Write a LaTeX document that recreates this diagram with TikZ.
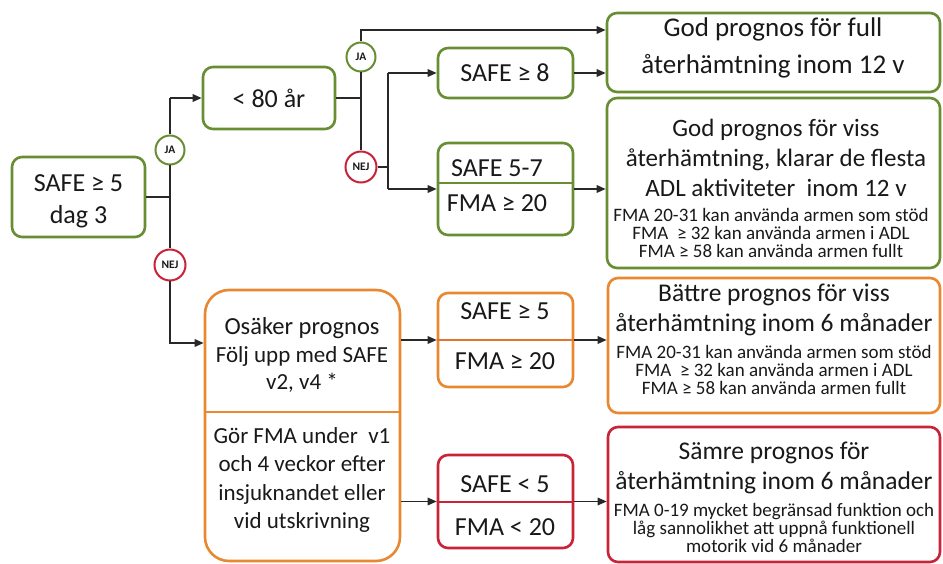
\documentclass[tikz,border=0pt]{standalone}
\usepackage{fontspec}
\setmainfont{Carlito}
\usetikzlibrary{arrows.meta}
\definecolor{gr}{RGB}{104,142,52}
\definecolor{orng}{RGB}{232,136,48}
\definecolor{rd}{RGB}{200,35,55}
\definecolor{ln}{RGB}{40,40,40}
\definecolor{txt}{RGB}{25,25,25}
\begin{document}
\begin{tikzpicture}[x=1pt,y=-1pt,
  box/.style={draw, rounded corners=10pt, line width=2.6pt, inner sep=0pt, fill=white},
  gbox/.style={box, draw=gr},
  obox/.style={box, draw=orng},
  rbox/.style={box, draw=rd},
  big/.style={font=\fontsize{26}{32}\selectfont, align=center, text=txt, inner sep=0pt},
  mid/.style={font=\fontsize{25.5}{30}\selectfont, align=center, text=txt, inner sep=0pt},
  small/.style={font=\fontsize{19}{17.8}\selectfont, align=center, text=txt, inner sep=0pt},
  con/.style={draw=ln, line width=1.6pt},
  arr/.style={con, -{Triangle[length=9pt,width=7.5pt]}},
  jacirc/.style={circle, draw=gr, line width=2pt, fill=white, minimum size=29pt, inner sep=0pt, text=txt, font=\fontsize{11.5}{11.5}\selectfont\bfseries},
  nejcirc/.style={jacirc, draw=rd, minimum size=31pt}
]
\useasboundingbox (0,0) rectangle (943,564);

% boxes
\node[gbox, minimum width=133pt, minimum height=80pt] (A) at (78.5,197) {};
\node[gbox, minimum width=132pt, minimum height=62pt] (B) at (269,98) {};
\node[gbox, minimum width=135pt, minimum height=50pt] (C) at (505.5,73) {};
\node[gbox, minimum width=135pt, minimum height=92pt] (D) at (505.5,189) {};
\node[gbox, minimum width=333pt, minimum height=79pt] (E) at (773.5,52.5) {};
\node[gbox, minimum width=333pt, minimum height=170pt] (F) at (773.5,183) {};
\node[obox, rounded corners=24pt, minimum width=195pt, minimum height=271pt] (G) at (302.5,425.5) {};
\node[obox, minimum width=135pt, minimum height=94pt] (H) at (505.5,340) {};
\node[rbox, minimum width=135pt, minimum height=93pt] (I) at (505.5,501.5) {};
\node[obox, minimum width=332pt, minimum height=135pt] (J) at (774,345.5) {};
\node[rbox, minimum width=332pt, minimum height=135pt] (K) at (774,494.5) {};

% dividers
\draw[gr, line width=1.2pt] (D.west |- 0,183) -- (D.east |- 0,183);
\draw[orng, line width=1.2pt] (G.west |- 0,412) -- (G.east |- 0,412);
\draw[orng!80!rd, line width=1.2pt] (H.west |- 0,340) -- (H.east |- 0,340);
\draw[rd, line width=1.2pt] (I.west |- 0,502) -- (I.east |- 0,502);

% texts
\node[big] (At) at (78.5,201) {SAFE ≥ 5\\dag 3};
\node[big] (Bt) at (269,98) {< 80 år};
\node[big] (Ct) at (505,73) {SAFE ≥ 8};
\node[big] (Dt1) at (497,168) {SAFE 5-7};
\node[big] (Dt2) at (497,203) {FMA ≥ 20};
\node[big] (Ht1) at (505,311) {SAFE ≥ 5};
\node[big] (Ht2) at (505,361) {FMA ≥ 20};
\node[big] (It1) at (505,484) {SAFE < 5};
\node[big] (It2) at (505,527) {FMA < 20};
\node[big, font=\fontsize{27}{37}\selectfont] (Et) at (773,48) {God prognos för full\\återhämtning inom 12 v};
\node[mid, font=\fontsize{25}{30}\selectfont] (Ft) at (776,158) {God prognos för viss\\återhämtning, klarar de flesta\\ADL aktiviteter \ inom 12 v};
\node[small] (Fs) at (771,233) {FMA 20-31 kan använda armen som stöd\\FMA \ ≥ 32 kan använda armen i ADL\\FMA ≥ 58 kan använda armen fullt};
\node[big, font=\fontsize{23}{27.5}\selectfont] (Gt1) at (302,355) {{\fontsize{24.5}{27.5}\selectfont Osäker prognos}\\Följ upp med SAFE\\v2, v4 *};
\node[big, font=\fontsize{23}{28.5}\selectfont] (Gt2) at (302,480) {Gör FMA under \ v1\\och 4 veckor efter\\insjuknandet eller\\vid utskrivning};
\node[mid] (Jt) at (774,310) {Bättre prognos för viss\\återhämtning inom 6 månader};
\node[small] (Js) at (774,370) {FMA 20-31 kan använda armen som stöd\\FMA \ ≥ 32 kan använda armen i ADL\\FMA ≥ 58 kan använda armen fullt};
\node[mid] (Kt) at (774,468) {Sämre prognos för\\återhämtning inom 6 månader};
\node[small] (Ks) at (774,528) {FMA 0-19 mycket begränsad funktion och\\låg sannolikhet att uppnå funktionell\\motorik vid 6 månader};

% decision circles
\node[jacirc] (ja1) at (170,150) {JA};
\node[nejcirc] (nej1) at (170,265) {NEJ};
\node[jacirc] (ja2) at (361,57) {JA};
\node[nejcirc] (nej2) at (361,167) {NEJ};

% junction coordinates
\coordinate (j1) at (170,197);
\coordinate (j1top) at (170,98);
\coordinate (gin) at (170,343);
\coordinate (j2) at (361,98);
\coordinate (t2) at (361,30);
\coordinate (j3) at (388,167);

% connectors
\draw[con] (A.east) -- (j1);
\draw[con] (j1top) -- (ja1);
\draw[con] (ja1) -- (nej1);
\draw[arr] (j1top) -- (B.west);
\draw[arr] (nej1) -- (gin) -- (gin -| G.west);

\draw[con] (B.east) -- (j2);
\draw[arr] (ja2) -- (t2) -- (t2 -| E.west);
\draw[con] (ja2) -- (nej2);
\draw[con] (nej2) -- (j3);
\draw[con] (j3 |- C.west) -- (j3 |- D.west);
\draw[arr] (j3 |- C.west) -- (C.west);
\draw[arr] (j3 |- D.west) -- (D.west);

\draw[arr] (C.east) -- (C.east -| E.west);
\draw[arr] (D.east) -- (D.east -| F.west);

\draw[arr] (G.east |- H.west) -- (H.west);
\draw[arr] (G.east |- I.west) -- (I.west);
\draw[arr] (H.east) -- (H.east -| J.west);
\draw[arr] (I.east) -- (I.east -| K.west);
\end{tikzpicture}
\end{document}
